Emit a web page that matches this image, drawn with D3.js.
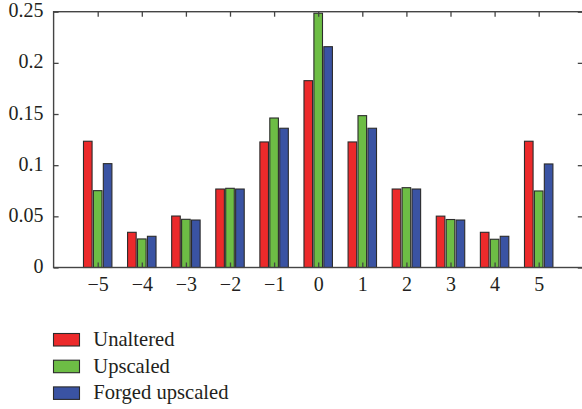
<!DOCTYPE html>
<html>
<head>
<meta charset="utf-8">
<script src="https://cdn.jsdelivr.net/npm/d3@7/dist/d3.min.js"></script>
<style>
  html, body { margin: 0; padding: 0; background: #ffffff; }
  svg { display: block; }
</style>
</head>
<body>
<svg id="chart" width="582" height="409"></svg>
<script>
// ---- data ----
const categories = [-5, -4, -3, -2, -1, 0, 1, 2, 3, 4, 5];
const categoryLabels = ["\u22125", "\u22124", "\u22123", "\u22122", "\u22121", "0", "1", "2", "3", "4", "5"];
const seriesNames = ["Unaltered", "Upscaled", "Forged upscaled"];
const unaltered = [0.1234, 0.0344, 0.0503, 0.0767, 0.1227, 0.1826, 0.1227, 0.0767, 0.0502, 0.0344, 0.1234];
const upscaled = [0.0751, 0.0279, 0.0471, 0.0774, 0.1461, 0.2485, 0.1484, 0.0780, 0.0469, 0.0276, 0.0748];
const forgedUpscaled = [0.1015, 0.0305, 0.0464, 0.0767, 0.1361, 0.2158, 0.1361, 0.0767, 0.0464, 0.0305, 0.1012];
const yTicks = [0, 0.05, 0.1, 0.15, 0.2, 0.25];
const yTickLabels = ["0", "0.05", "0.1", "0.15", "0.2", "0.25"];

const seriesValues = [unaltered, upscaled, forgedUpscaled];
const colors = ["#ec2a2b", "#6dbd45", "#3a53a3"];
const offsets = [-0.225, 0, 0.225];
const barWidth = 0.195;
const FONT = "Liberation Serif, Times New Roman, serif";

const svg = d3.select("#chart").attr("font-family", FONT);
const x = d3.scaleLinear().domain([-6, 6]).range([53.6, 582.8]);
const y = d3.scaleLinear().domain([0, 0.25]).range([267.5, 11.7]);

const xA = x.range()[0], xB = x.range()[1];
const yA = y.range()[0], yB = y.range()[1];

// bars
seriesValues.forEach((vals, si) => {
  svg.append("g").selectAll("rect")
    .data(vals.map((v, i) => ({ c: categories[i], v })))
    .join("rect")
    .attr("x", d => x(d.c + offsets[si] - barWidth / 2))
    .attr("width", d => x(barWidth) - x(0))
    .attr("y", d => y(d.v))
    .attr("height", d => y(0) - y(d.v))
    .attr("fill", colors[si])
    .attr("stroke", "#2b2b2b")
    .attr("stroke-width", 1.1);
});

const tickColor = "#444";

const gBottom = svg.append("g").attr("transform", `translate(0,${yA})`)
  .call(d3.axisBottom(x).tickValues(categories).tickSize(-5).tickPadding(9.5)
    .tickFormat((d, i) => categoryLabels[i]));
const gTop = svg.append("g").attr("transform", `translate(0,${yB})`)
  .call(d3.axisTop(x).tickValues(categories).tickSize(-5).tickFormat(""));
const gLeft = svg.append("g").attr("transform", `translate(${xA},0)`)
  .call(d3.axisLeft(y).tickValues(yTicks).tickSize(-5).tickPadding(10)
    .tickFormat((d, i) => yTickLabels[i]));
const gRight = svg.append("g").attr("transform", `translate(${xB},0)`)
  .call(d3.axisRight(y).tickValues(yTicks).tickSize(-5).tickFormat(""));

[gBottom, gTop, gLeft, gRight].forEach(g => {
  g.attr("font-family", FONT).attr("font-size", 20);
  g.select(".domain").remove();
  g.selectAll(".tick line").attr("stroke", tickColor).attr("stroke-width", 1.3);
  g.selectAll(".tick text").attr("fill", "#231f20");
});
gLeft.selectAll(".tick text").attr("dy", "0.25em");
gBottom.selectAll(".tick text").attr("dy", "0.71em");

// frame
svg.append("rect")
  .attr("x", xA).attr("y", yB)
  .attr("width", xB - xA).attr("height", yA - yB)
  .attr("fill", "none").attr("stroke", tickColor).attr("stroke-width", 1.4);

// legend
const legend = svg.append("g").attr("font-family", FONT).attr("font-size", 20.6);
seriesNames.forEach((name, i) => {
  const ly = 333.5 + i * 26.7;
  legend.append("rect")
    .attr("x", 53.5).attr("y", ly).attr("width", 26).attr("height", 12.5)
    .attr("fill", colors[i]).attr("stroke", "#2b2b2b").attr("stroke-width", 1.1);
  legend.append("text")
    .attr("x", 93.3).attr("y", ly + 12.5)
    .attr("fill", "#231f20")
    .text(name);
});
</script>
</body>
</html>
